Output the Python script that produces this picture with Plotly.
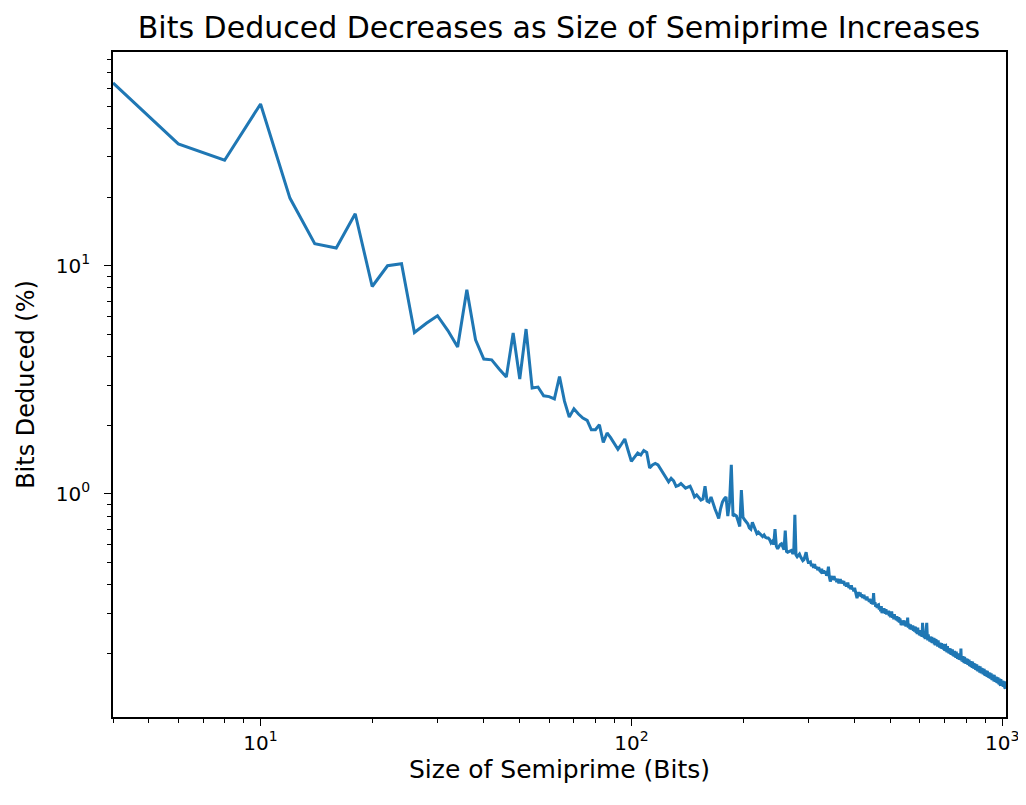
import plotly.graph_objects as go

# Size of semiprime (bits): even sizes 4..1024
sizes = list(range(4, 1025, 2))

# Bits deduced (%), 10 values per row (row start size in comment)
bits_deduced = [
    63.3, 34.2, 29.0, 51.2, 19.8, 12.5, 11.96, 16.9, 8.11, 10.0,          # 4
    10.2, 5.10, 5.6, 6.04, 5.2, 4.40, 7.85, 4.74, 3.90, 3.87,             # 24
    3.53, 3.25, 5.07, 3.19, 5.28, 2.91, 2.94, 2.69, 2.67, 2.61,           # 44
    3.27, 2.55, 2.17, 2.36, 2.24, 2.15, 2.10, 1.91, 1.91, 2.01,           # 64
    1.68, 1.85, 1.76, 1.67, 1.57, 1.65, 1.74, 1.55, 1.39, 1.45,           # 84
    1.51, 1.48, 1.55, 1.52, 1.30, 1.34, 1.36, 1.34, 1.28, 1.23,           # 104
    1.18, 1.13, 1.17, 1.14, 1.08, 1.09, 1.11, 1.08, 1.06, 1.07,           # 124
    1.08, 1.03, 0.97, 0.99, 0.96, 0.94, 0.95, 1.08, 0.93, 0.92,           # 144
    0.97, 0.90, 0.86, 0.82, 0.78, 0.86, 0.92, 0.95, 0.97, 0.80,           # 164
    0.92, 1.34, 0.80, 0.81, 0.80, 0.76, 0.72, 1.04, 0.79, 0.77,           # 184
    0.75, 0.74, 0.71, 0.70, 0.75, 0.72, 0.69, 0.67, 0.68, 0.67,           # 204
    0.66, 0.65, 0.66, 0.645, 0.64, 0.64, 0.63, 0.61, 0.62, 0.60,          # 224
    0.70, 0.59, 0.575, 0.59, 0.60, 0.605, 0.58, 0.57, 0.69, 0.56,         # 244
    0.555, 0.56, 0.565, 0.565, 0.55, 0.55, 0.81, 0.54, 0.53, 0.54,        # 264
    0.545, 0.53, 0.52, 0.51, 0.515, 0.53, 0.555, 0.52, 0.50, 0.50,        # 284
    0.503, 0.482, 0.493, 0.474, 0.492, 0.472, 0.479, 0.463, 0.477, 0.461, # 304
    0.456, 0.470, 0.448, 0.461, 0.448, 0.459, 0.438, 0.449, 0.480, 0.432, # 324
    0.413, 0.426, 0.436, 0.420, 0.436, 0.419, 0.425, 0.411, 0.424, 0.410, # 344
    0.410, 0.423, 0.405, 0.416, 0.405, 0.415, 0.397, 0.407, 0.392, 0.404, # 364
    0.404, 0.387, 0.396, 0.382, 0.397, 0.381, 0.387, 0.374, 0.387, 0.374, # 384
    0.365, 0.349, 0.360, 0.371, 0.361, 0.370, 0.354, 0.363, 0.350, 0.361, # 404
    0.361, 0.346, 0.354, 0.342, 0.355, 0.341, 0.347, 0.336, 0.347, 0.336, # 424
    0.332, 0.343, 0.327, 0.367, 0.327, 0.335, 0.320, 0.328, 0.316, 0.326, # 444
    0.327, 0.311, 0.321, 0.306, 0.322, 0.300, 0.314, 0.302, 0.315, 0.303, # 464
    0.300, 0.312, 0.296, 0.307, 0.298, 0.308, 0.291, 0.302, 0.288, 0.301, # 484
    0.301, 0.286, 0.295, 0.282, 0.297, 0.283, 0.290, 0.279, 0.291, 0.280, # 504
    0.277, 0.288, 0.273, 0.284, 0.275, 0.266, 0.270, 0.279, 0.267, 0.279, # 524
    0.279, 0.265, 0.274, 0.262, 0.276, 0.263, 0.287, 0.259, 0.270, 0.260, # 544
    0.257, 0.268, 0.254, 0.264, 0.256, 0.265, 0.251, 0.260, 0.249, 0.259, # 564
    0.261, 0.246, 0.256, 0.243, 0.259, 0.244, 0.251, 0.240, 0.253, 0.242, # 584
    0.239, 0.252, 0.236, 0.272, 0.239, 0.249, 0.234, 0.244, 0.231, 0.244, # 604
    0.244, 0.272, 0.240, 0.228, 0.242, 0.229, 0.236, 0.225, 0.237, 0.227, # 624
    0.224, 0.236, 0.222, 0.232, 0.224, 0.234, 0.219, 0.229, 0.217, 0.229, # 644
    0.230, 0.217, 0.225, 0.214, 0.228, 0.215, 0.222, 0.212, 0.223, 0.214, # 664
    0.211, 0.222, 0.209, 0.219, 0.211, 0.220, 0.207, 0.216, 0.205, 0.216, # 684
    0.2165, 0.204, 0.212, 0.202, 0.215, 0.203, 0.209, 0.200, 0.211, 0.202, # 704
    0.1995, 0.210, 0.197, 0.207, 0.199, 0.208, 0.1955, 0.204, 0.194, 0.204, # 724
    0.205, 0.193, 0.201, 0.191, 0.2035, 0.192, 0.198, 0.189, 0.200, 0.191, # 744
    0.189, 0.199, 0.187, 0.196, 0.189, 0.210, 0.1855, 0.194, 0.184, 0.194, # 764
    0.1945, 0.183, 0.191, 0.181, 0.193, 0.183, 0.188, 0.180, 0.190, 0.182, # 784
    0.180, 0.189, 0.178, 0.1865, 0.180, 0.188, 0.176, 0.184, 0.175, 0.184, # 804
    0.185, 0.1745, 0.182, 0.1726, 0.184, 0.174, 0.179, 0.1714, 0.181, 0.173, # 824
    0.171, 0.180, 0.1694, 0.178, 0.1714, 0.179, 0.168, 0.1756, 0.1666, 0.176, # 844
    0.1764, 0.1665, 0.173, 0.1647, 0.1755, 0.166, 0.171, 0.1635, 0.1726, 0.165, # 864
    0.1634, 0.172, 0.1617, 0.1696, 0.1636, 0.171, 0.1606, 0.1678, 0.1592, 0.168, # 884
    0.1686, 0.1591, 0.1656, 0.1575, 0.1678, 0.1588, 0.1635, 0.1565, 0.1651, 0.158, # 904
    0.1564, 0.1647, 0.1547, 0.1624, 0.1566, 0.1636, 0.1538, 0.1606, 0.1525, 0.1609, # 924
    0.1615, 0.1524, 0.1586, 0.1508, 0.1608, 0.1521, 0.1567, 0.1499, 0.1582, 0.1513, # 944
    0.1498, 0.1578, 0.1483, 0.1557, 0.1502, 0.1569, 0.1474, 0.154, 0.1462, 0.1543, # 964
    0.1549, 0.1462, 0.1522, 0.1447, 0.1543, 0.1459, 0.1504, 0.1439, 0.1518, 0.1453, # 984
    0.1439, 0.1515, 0.1424, 0.1494, 0.1442, 0.1507, 0.1416, 0.148, 0.1405, 0.1483, # 1004
    0.1445,                                                                # 1024
]

x_major = [10, 100, 1000]
x_major_text = ["10<sup>1</sup>", "10<sup>2</sup>", "10<sup>3</sup>"]
x_minor = [4, 5, 6, 7, 8, 9, 20, 30, 40, 50, 60, 70, 80, 90,
           200, 300, 400, 500, 600, 700, 800, 900]
y_major = [1, 10]
y_major_text = ["10<sup>0</sup>", "10<sup>1</sup>"]
y_minor = [0.2, 0.3, 0.4, 0.5, 0.6, 0.7, 0.8, 0.9,
           2, 3, 4, 5, 6, 7, 8, 9, 20, 30, 40, 50, 60, 70, 80]

FONT = "DejaVu Sans"

fig = go.Figure()
fig.add_trace(go.Scatter(x=sizes, y=bits_deduced, mode="lines",
                         line=dict(color="#1f77b4", width=3), showlegend=False))

axis_common = dict(showgrid=False, zeroline=False, showline=True, linecolor="black",
                   linewidth=1.6, mirror=True, ticks="outside", ticklen=7, tickwidth=1.4,
                   automargin=False, ticklabeloverflow="allow",
                   tickcolor="black", tickfont=dict(family=FONT, size=20, color="black"))

fig.update_xaxes(type="log", range=[0.60206, 3.0103], tickmode="array",
                 tickvals=x_major, ticktext=x_major_text,
                 minor=dict(tickmode="array", tickvals=x_minor, ticks="outside",
                            ticklen=4, tickwidth=1.1, tickcolor="black"),
                 title=dict(text="Size of Semiprime (Bits)", standoff=0,
                            font=dict(family=FONT, size=25, color="black")),
                 **axis_common)
fig.update_yaxes(type="log", range=[-0.978, 1.937], tickmode="array",
                 tickvals=y_major, ticktext=y_major_text, ticklabelstandoff=10,
                 minor=dict(tickmode="array", tickvals=y_minor, ticks="outside",
                            ticklen=4, tickwidth=1.1, tickcolor="black"),
                 title=dict(text="Bits Deduced (%)", standoff=14,
                            font=dict(family=FONT, size=24, color="black")),
                 **axis_common)

fig.update_layout(
    width=1018, height=789,
    margin=dict(l=105, r=20, t=44, b=80),
    paper_bgcolor="white", plot_bgcolor="white",
    title=dict(text="Bits Deduced Decreases as Size of Semiprime Increases",
               x=(559 - 8) / 1018, xanchor="center", y=1 - 19 / 789, yanchor="middle",
               font=dict(family=FONT, size=30, color="black")),
)

fig.write_html("out.html")
